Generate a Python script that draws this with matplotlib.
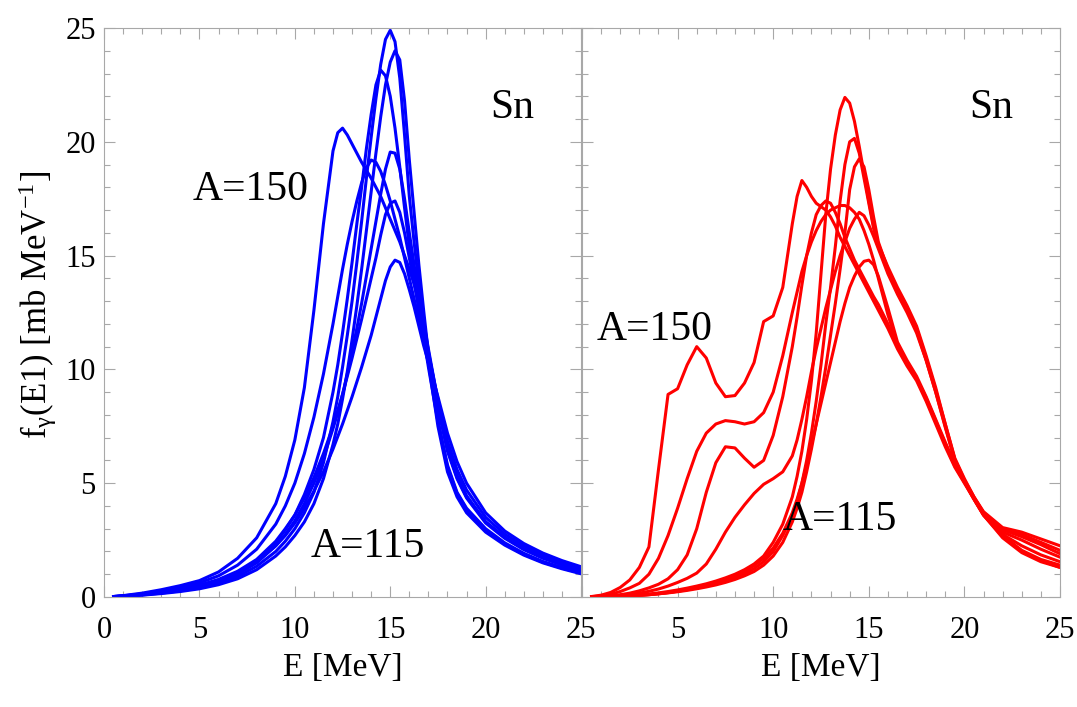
import matplotlib
matplotlib.use("Agg")
import matplotlib.pyplot as plt
from matplotlib.ticker import MultipleLocator

plt.rcParams['font.family'] = ['Liberation Serif', 'DejaVu Serif']
plt.rcParams['mathtext.fontset'] = 'custom'
plt.rcParams['mathtext.rm'] = 'Liberation Serif'
plt.rcParams['mathtext.it'] = 'Liberation Serif:italic'

# --- left panel: Lorentzian-like GDR strength (blue) ---
energy_left = [0.5, 1, 2, 3, 4, 5, 6, 7, 8, 9, 9.5, 10, 10.5, 11, 11.5, 12, 12.25, 12.5, 12.75, 13,
               13.25, 13.5, 13.75, 14, 14.25, 14.5, 14.75, 15, 15.25, 15.5, 15.75, 16, 16.25, 16.5, 16.75,
               17, 17.5, 18, 18.5, 19, 20, 21, 22, 23, 24, 25]

blue_curves = [
    [0.01, 0.03, 0.09, 0.17, 0.27, 0.4, 0.6, 0.9, 1.35, 2.0, 2.45, 3.0, 3.7, 4.6, 5.9, 7.7, 8.8, 10.1, 11.5, 13.0,
     14.7, 16.5, 18.4, 20.2, 21.9, 23.4, 24.5, 24.9, 24.4, 22.8, 20.3, 17.6, 15.6, 13.7, 11.9,
     10.3, 7.5, 5.5, 4.4, 3.7, 2.85, 2.28, 1.84, 1.5, 1.24, 1.02],
    [0.01, 0.03, 0.08, 0.15, 0.24, 0.36, 0.54, 0.8, 1.2, 1.8, 2.2, 2.7, 3.3, 4.1, 5.2, 6.7, 7.6, 8.7, 9.9, 11.3,
     12.8, 14.4, 16.1, 17.8, 19.5, 21.1, 22.5, 23.5, 24.0, 23.6, 21.8, 19.2, 16.9, 14.6, 12.6,
     10.7, 7.8, 5.7, 4.55, 3.85, 2.95, 2.33, 1.88, 1.53, 1.27, 1.05],
    [0.01, 0.04, 0.11, 0.2, 0.32, 0.48, 0.72, 1.08, 1.6, 2.4, 2.95, 3.6, 4.5, 5.6, 7.0, 9.0, 10.2, 11.6, 13.1, 14.7,
     16.4, 18.0, 19.7, 21.2, 22.5, 23.15, 22.9, 22.0, 20.6, 18.9, 17.1, 15.4, 14.0, 12.6, 11.4,
     10.1, 7.7, 5.8, 4.6, 3.9, 3.0, 2.38, 1.92, 1.56, 1.3, 1.08],
    [0.02, 0.06, 0.17, 0.32, 0.5, 0.72, 1.1, 1.7, 2.6, 4.1, 5.3, 6.9, 9.2, 12.6, 16.4, 19.6, 20.4, 20.6, 20.3, 19.9,
     19.5, 19.1, 18.75, 18.4, 18.0, 17.6, 17.1, 16.6, 16.1, 15.6, 15.0, 14.4, 13.75, 13.0, 12.1,
     10.9, 8.6, 6.6, 5.35, 4.45, 3.3, 2.62, 2.12, 1.74, 1.44, 1.2],
    [0.02, 0.05, 0.14, 0.27, 0.42, 0.62, 0.93, 1.4, 2.1, 3.2, 4.0, 5.0, 6.3, 7.9, 9.8, 12.0, 13.2, 14.4, 15.5, 16.5,
     17.4, 18.2, 18.85, 19.2, 19.1, 18.7, 18.1, 17.4, 16.6, 15.8, 14.9, 14.0, 13.1, 12.2, 11.25,
     10.3, 8.3, 6.4, 5.2, 4.35, 3.25, 2.58, 2.08, 1.7, 1.41, 1.17],
    [0.01, 0.04, 0.1, 0.19, 0.3, 0.45, 0.68, 1.0, 1.5, 2.25, 2.75, 3.35, 4.1, 5.0, 6.1, 7.4, 8.1, 8.9, 9.8, 10.8,
     11.8, 12.9, 14.1, 15.3, 16.5, 17.7, 18.8, 19.55, 19.5, 18.8, 17.5, 16.0, 14.6, 13.2, 12.0,
     10.8, 8.5, 6.5, 5.25, 4.4, 3.3, 2.62, 2.12, 1.74, 1.44, 1.2],
    [0.02, 0.04, 0.12, 0.22, 0.35, 0.52, 0.77, 1.13, 1.65, 2.45, 3.0, 3.6, 4.35, 5.25, 6.3, 7.5, 8.2, 8.9, 9.7, 10.5,
     11.35, 12.2, 13.1, 14.0, 14.9, 15.9, 16.8, 17.3, 17.4, 16.9, 16.0, 14.9, 13.8, 12.7, 11.65,
     10.7, 8.7, 6.85, 5.6, 4.7, 3.5, 2.76, 2.24, 1.84, 1.53, 1.28],
    [0.02, 0.04, 0.12, 0.22, 0.35, 0.5, 0.74, 1.08, 1.55, 2.25, 2.7, 3.25, 3.9, 4.65, 5.5, 6.5, 7.05, 7.6, 8.2, 8.8,
     9.45, 10.1, 10.8, 11.5, 12.3, 13.1, 13.9, 14.5, 14.8, 14.7, 14.2, 13.5, 12.75, 11.9, 11.05,
     10.3, 8.8, 7.2, 5.95, 5.0, 3.7, 2.9, 2.35, 1.93, 1.6, 1.33],
]

# --- right panel: strength with pygmy structures (red) ---
energy_right = [0.5, 1, 1.5, 2, 2.5, 3, 3.5, 4, 4.5, 5, 5.5, 6, 6.5, 7, 7.5, 8, 8.5, 9, 9.5, 10, 10.5,
                11, 11.25, 11.5, 11.75, 12, 12.25, 12.5, 12.75, 13, 13.25, 13.5, 13.75, 14, 14.25, 14.5, 14.75,
                15, 15.25, 15.5,
                16, 16.5, 17, 17.5, 18, 18.5, 19, 19.5, 20, 20.5, 21,
                22, 23, 24, 25]

red_curves = [
    [0.02, 0.08, 0.2, 0.42, 0.75, 1.3, 2.2, 5.6, 8.9, 9.15, 10.2, 11.0, 10.5, 9.4, 8.8, 8.85, 9.4, 10.3, 12.1, 12.35, 13.6,
     16.4, 17.6, 18.3, 18.0, 17.6, 17.3, 17.15, 17.0, 16.7, 16.3, 15.8, 15.4, 15.0, 14.6, 14.2, 13.8, 13.4, 13.0, 12.6,
     11.8, 10.9, 10.15, 9.5, 8.6, 7.6, 6.6, 5.7, 5.0, 4.3, 3.6,
     2.65, 2.0, 1.6, 1.3],
    [0.01, 0.05, 0.12, 0.24, 0.4, 0.6, 1.0, 1.7, 2.7, 3.9, 5.2, 6.4, 7.2, 7.6, 7.75, 7.7, 7.6, 7.7, 8.1, 9.0, 10.6,
     12.5, 13.4, 14.3, 15.0, 15.6, 16.1, 16.5, 16.8, 17.0, 17.1, 17.2, 17.2, 17.1, 16.9, 16.6, 16.1, 15.5, 14.8, 14.0,
     12.4, 11.1, 10.3, 9.6, 8.7, 7.7, 6.75, 5.8, 5.05, 4.3, 3.6,
     2.7, 2.05, 1.65, 1.4],
    [0.01, 0.02, 0.05, 0.1, 0.17, 0.27, 0.4, 0.56, 0.8, 1.2, 1.85, 3.0, 4.6, 5.9, 6.6, 6.55, 6.1, 5.7, 6.0, 7.1, 8.8,
     11.0, 12.3, 13.7, 15.0, 16.0, 16.8, 17.2, 17.4, 17.3, 16.9, 16.4, 15.8, 15.3, 14.8, 14.4, 14.0, 13.6, 13.2, 12.85,
     12.0, 11.05, 10.25, 9.6, 8.75, 7.75, 6.7, 5.75, 5.05, 4.3, 3.6,
     2.6, 1.95, 1.55, 1.3],
    [0.01, 0.02, 0.04, 0.07, 0.11, 0.17, 0.25, 0.35, 0.48, 0.64, 0.82, 1.05, 1.45, 2.1, 2.85, 3.5, 4.05, 4.55, 4.95, 5.2, 5.5,
     6.2, 6.9, 7.8, 8.8, 9.9, 10.9, 11.8, 12.7, 13.5, 14.3, 15.0, 15.6, 16.2, 16.6, 16.9, 16.75, 16.35, 15.85, 15.3,
     14.2, 13.3, 12.5, 11.6, 10.4, 9.0, 7.45, 6.0, 5.1, 4.35, 3.7,
     2.85, 2.5, 2.1, 1.75],
    [0.0, 0.01, 0.02, 0.04, 0.06, 0.09, 0.13, 0.18, 0.24, 0.31, 0.39, 0.48, 0.58, 0.7, 0.84, 1.0, 1.2, 1.45, 1.8, 2.4, 3.2,
     4.4, 5.3, 6.4, 7.8, 9.5, 11.6, 14.2, 16.8, 18.8, 20.3, 21.4, 21.95, 21.7, 20.9, 19.8, 18.6, 17.4, 16.3, 15.5,
     14.5, 13.6, 12.8, 11.9, 10.6, 9.2, 7.6, 6.1, 5.2, 4.4, 3.75,
     3.05, 2.85, 2.55, 2.25],
    [0.0, 0.01, 0.02, 0.03, 0.05, 0.08, 0.11, 0.15, 0.2, 0.26, 0.33, 0.41, 0.5, 0.6, 0.72, 0.86, 1.03, 1.25, 1.55, 2.0, 2.7,
     3.6, 4.2, 5.0, 6.0, 7.2, 8.6, 10.2, 12.0, 13.6, 15.4, 17.4, 19.0, 20.0, 20.15, 19.5, 18.4, 17.3, 16.2, 15.4,
     14.3, 13.4, 12.6, 11.7, 10.4, 9.0, 7.5, 6.0, 5.1, 4.35, 3.7,
     3.0, 2.75, 2.4, 2.05],
    [0.0, 0.01, 0.02, 0.03, 0.05, 0.07, 0.1, 0.14, 0.18, 0.23, 0.29, 0.36, 0.44, 0.53, 0.64, 0.77, 0.93, 1.12, 1.4, 1.8, 2.4,
     3.3, 3.9, 4.6, 5.5, 6.5, 7.6, 8.8, 10.1, 11.5, 12.9, 14.4, 16.0, 17.9, 18.9, 19.25, 18.9, 17.9, 16.7, 15.6,
     14.4, 13.5, 12.7, 11.8, 10.5, 9.1, 7.6, 6.05, 5.15, 4.4, 3.7,
     2.95, 2.65, 2.3, 1.9],
    [0.0, 0.01, 0.02, 0.03, 0.05, 0.07, 0.1, 0.14, 0.19, 0.25, 0.32, 0.4, 0.5, 0.62, 0.76, 0.93, 1.13, 1.38, 1.7, 2.15, 2.8,
     3.7, 4.3, 5.0, 5.8, 6.7, 7.6, 8.5, 9.4, 10.3, 11.2, 12.1, 12.9, 13.6, 14.1, 14.5, 14.75, 14.8, 14.6, 14.1,
     12.7, 11.2, 10.4, 9.7, 8.8, 7.8, 6.8, 5.85, 5.1, 4.35, 3.65,
     2.75, 2.25, 1.85, 1.55],
]

x_ticks = [0, 5, 10, 15, 20, 25]
y_ticks = [0, 5, 10, 15, 20, 25]

fig = plt.figure(figsize=(10.77, 7.07), dpi=100)
ax1 = fig.add_axes([0.0966, 0.1556, 0.4429, 0.8048])
ax2 = fig.add_axes([0.5404, 0.1556, 0.4438, 0.8048])

for ycurve in blue_curves:
    ax1.plot(energy_left, ycurve, color='#0000ff', lw=2.2, solid_joinstyle='round')
for ycurve in red_curves:
    ax2.plot(energy_right, ycurve, color='#ff0000', lw=2.2, solid_joinstyle='round')

frame = '#a8a8a8'
for ax in (ax1, ax2):
    ax.set_xlim(0, 25)
    ax.set_ylim(0, 25)
    ax.set_xticks(x_ticks)
    ax.set_yticks(y_ticks)
    ax.xaxis.set_minor_locator(MultipleLocator(1))
    ax.yaxis.set_minor_locator(MultipleLocator(1))
    ax.tick_params(which='both', direction='in', top=True, right=True, color=frame, width=0.8)
    ax.tick_params(which='major', length=8, labelsize=22)
    ax.tick_params(which='minor', length=4)
    ax.tick_params(axis='x', which='major', pad=14)
    ax.tick_params(axis='y', which='major', pad=6)
    for s in ax.spines.values():
        s.set_color(frame)
        s.set_linewidth(0.8)
    ax.set_xlabel('E [MeV]', fontsize=24, labelpad=5)
    ax.text(21.4, 21.05, 'Sn', fontsize=30, ha='center', va='baseline')

ax2.set_xticklabels(['', '5', '10', '15', '20', '25'])
ax2.set_yticklabels([])

ax1.text(7.7, 17.45, 'A=150', fontsize=30, ha='center', va='baseline')
ax1.text(13.8, 1.75, 'A=115', fontsize=30, ha='center', va='baseline')
ax2.text(3.8, 11.3, 'A=150', fontsize=30, ha='center', va='baseline')
ax2.text(13.5, 2.95, 'A=115', fontsize=30, ha='center', va='baseline')

fig.text(38 / 1077, 1 - 305 / 707, r'f$_{\mathrm{\gamma}}$(E1) [mb MeV$^{-1}$]',
         fontsize=25, rotation=90, ha='center', va='center')

fig.savefig('out.png', dpi=100)
